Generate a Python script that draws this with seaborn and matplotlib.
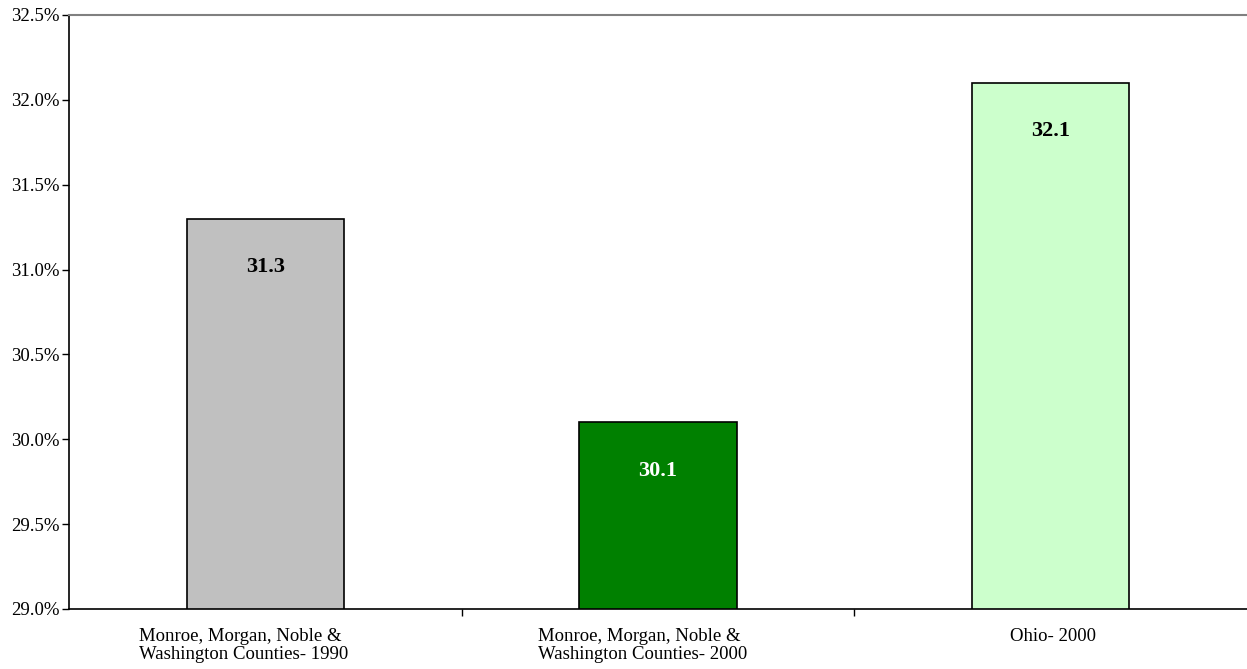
import pandas as pd
import matplotlib.pyplot as plt
import matplotlib.transforms as mtransforms
import seaborn as sns
from matplotlib.ticker import FuncFormatter, MultipleLocator

categories = ["Monroe, Morgan, Noble &\nWashington Counties- 1990",
              "Monroe, Morgan, Noble &\nWashington Counties- 2000",
              "Ohio- 2000"]
values = [31.3, 30.1, 32.1]
bar_colors = ["#C0C0C0", "#008000", "#CCFFCC"]
label_colors = ["black", "white", "black"]

df = pd.DataFrame({"area": categories, "pct": values})

sns.set_style("white")
plt.rcParams['font.family'] = ['Liberation Serif', 'DejaVu Serif']
plt.rcParams['text.color'] = 'black'
plt.rcParams['xtick.color'] = 'black'
plt.rcParams['ytick.color'] = 'black'

fig = plt.figure(figsize=(12.47, 6.69), dpi=100)
ax = fig.add_axes([0.0553, 0.0897, 0.9447, 0.8879])

sns.barplot(data=df, x="area", y="pct", hue="area", palette=bar_colors,
            saturation=1, width=0.4, edgecolor="black", linewidth=1.2,
            legend=False, ax=ax)

ax.set_ylim(29.0, 32.5)
ax.set_xlim(-0.5, 2.5)
ax.yaxis.set_major_locator(MultipleLocator(0.5))
ax.yaxis.set_major_formatter(FuncFormatter(lambda v, p: f"{v:.1f}%"))

# value labels inside the bars
for i, (v, c) in enumerate(zip(values, label_colors)):
    ax.annotate(f"{v:.1f}", (i, v), xytext=(0, -35), textcoords="offset points",
                ha="center", va="center", fontsize=16, fontweight="bold", color=c)

# category ticks sit between the bars
ax.set_xticks([0.5, 1.5])
ax.set_xticklabels([])
ax.set_xticks([0, 1, 2], minor=True)
ax.set_xticklabels(categories, minor=True, fontsize=13.5)
ax.tick_params(axis="x", which="minor", bottom=False, length=0, pad=14)
ax.tick_params(axis="x", which="major", bottom=True, length=5, width=1,
               color="black", direction="out")
ax.tick_params(axis="y", left=True, length=5, width=1, color="black",
               direction="out", labelsize=13.5, pad=2)

# two-line labels are left aligned and sit a bit left of the bar centre
shifts = [-22, -15, 2]
for lab, dx in zip(ax.get_xticklabels(minor=True), shifts):
    lab.set_linespacing(1.05)
    lab.set_multialignment("left")
    lab.set_color("black")
    lab.set_transform(lab.get_transform() +
                      mtransforms.ScaledTranslation(dx / 100, 0, fig.dpi_scale_trans))
for lab in ax.get_yticklabels():
    lab.set_color("black")

ax.set_xlabel("")
ax.set_ylabel("")

for side in ["left", "bottom"]:
    ax.spines[side].set_color("black")
    ax.spines[side].set_linewidth(1.2)
ax.spines["top"].set_color("#808080")
ax.spines["top"].set_linewidth(1.5)
ax.spines["right"].set_visible(False)

fig.savefig("out.png", dpi=100)
